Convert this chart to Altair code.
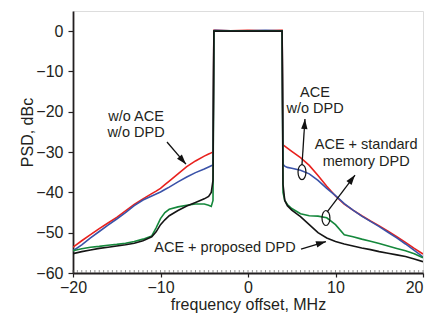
import math
import altair as alt
import pandas as pd

# ---- data ----
freq = [-20, -19, -18, -17, -16, -15, -14, -13, -12, -11, -10.5, -10, -9.5, -9, -8, -7, -6, -5,
        -4.5, -4.2, -4.0, -3.9, -3.8, -2, 0, 2, 3.8, 3.9, 4.0, 4.2, 4.5, 5, 6, 7, 8, 9, 10,
        11, 12, 13, 14, 15, 16, 17, 18, 19, 20]

red = [-53.6, -52.0, -50.5, -49.0, -47.6, -46.2, -44.6, -43.0, -41.6, -40.3, -39.7, -39.0, -38.1,
       -37.2, -35.4, -33.6, -32.2, -31.0, -30.5, -30.2, -30.0, 0.2, 0.2, 0.1, 0.2, 0.1, 0.2, 0.2,
       -28.2, -28.5, -29.0, -29.8, -31.4, -33.3, -35.8, -38.5, -40.9,
       -42.9, -44.4, -45.8, -47.1, -48.3, -49.6, -51.0, -52.4, -53.9, -55.3]

blue = [-54.5, -53.0, -51.3, -49.7, -48.1, -46.6, -45.0, -43.3, -41.9, -40.9, -40.4, -39.9, -39.3,
        -38.7, -37.4, -36.2, -35.1, -34.2, -33.7, -33.4, -33.2, 0.1, 0.2, 0.1, 0.1, 0.2, 0.1, 0.1,
        -33.0, -33.5, -33.8, -34.0, -34.5, -35.4, -37.0, -39.0, -40.8,
        -42.8, -44.4, -45.9, -47.2, -48.5, -49.9, -51.3, -52.8, -54.4, -56.0]

green = [-54.5, -54.0, -53.6, -53.4, -53.1, -52.9, -52.6, -52.2, -51.6, -50.8, -48.8, -46.5, -45.0,
         -44.2, -43.6, -43.2, -42.9, -42.9, -43.2, -43.5, -42.0, 0.0, 0.0, 0.0, 0.0, 0.0, 0.0, 0.0,
         -40.0, -42.0, -43.0, -44.0, -45.3, -45.8, -45.9, -46.3, -48.0,
         -50.5, -51.0, -51.6, -52.1, -52.7, -53.3, -53.9, -54.5, -55.2, -56.2]

black = [-55.2, -54.7, -54.3, -53.9, -53.6, -53.3, -53.0, -52.6, -52.0, -51.0, -49.8, -48.0, -46.8,
         -45.8, -44.5, -43.4, -42.5, -41.6, -41.0, -40.0, -37.0, 0.0, 0.0, 0.0, 0.0, 0.0, 0.0, 0.0,
         -38.0, -42.0, -43.3, -44.4, -46.0, -48.0, -50.0, -51.3, -52.2,
         -52.8, -53.3, -53.8, -54.2, -54.7, -55.1, -55.5, -55.9, -56.5, -57.2]

series_names = ["w/o ACE w/o DPD", "ACE w/o DPD", "ACE + standard memory DPD", "ACE + proposed DPD"]
series_values = [red, blue, green, black]
series_colors = ["#e8211d", "#3a52a8", "#15883c", "#151515"]

x_ticks = [-20, -10, 0, 10, 20]
y_ticks = [-60, -50, -40, -30, -20, -10, 0]
minor_x = [-20 + 0.5 * i for i in range(81)]

# annotations (data coordinates)
ann_text = ["w/o ACE", "w/o DPD", "ACE", "w/o DPD", "ACE + standard", "memory DPD", "ACE + proposed DPD"]
ann_x = [-12.8, -12.8, 7.66, 7.66, 13.5, 13.5, -2.63]
ann_y = [-22.3, -26.3, -16.4, -20.3, -29.3, -33.5, -54.8]

arrow_x0 = [-9.26, 6.17, 9.03, 6.06]
arrow_y0 = [-27.5, -33.2, -44.9, -54.05]
arrow_x1 = [-7.09, 6.51, 12.23, 8.91]
arrow_y1 = [-33.0, -21.8, -35.7, -52.2]

ell_x = [6.17, 8.91]
ell_y = [-34.96, -46.36]

W, H = 350, 262
XD = [-20, 20]
YD = [-60, 5]
TXT = "#231f20"
FONT = "Liberation Sans"

xs = alt.Scale(domain=XD, nice=False, zero=False)
ys = alt.Scale(domain=YD, nice=False, zero=False)

AX = alt.Axis(
    values=x_ticks, title="frequency offset, MHz", grid=False, labelFlush=False,
    labelAlign=alt.ExprRef(expr="datum.value >= 20 ? 'right' : 'center'"),
    domainColor=TXT, domainWidth=1.8, tickColor=TXT, tickWidth=1.2, tickSize=4,
    labelFontSize=16, labelFont=FONT, labelColor=TXT, labelPadding=2,
    titleFontSize=16, titleFont=FONT, titleColor=TXT, titleFontWeight="normal",
    titleY=36, titleBaseline="alphabetic")
AY = alt.Axis(
    values=y_ticks, title="PSD, dBc", grid=False, labelFlush=False,
    domainColor=TXT, domainWidth=1.8, tickColor=TXT, tickWidth=1.2, tickSize=5,
    labelFontSize=16, labelFont=FONT, labelColor=TXT, labelPadding=5,
    titleFontSize=16, titleFont=FONT, titleColor=TXT, titleFontWeight="normal",
    titleX=-41, titleY=121, titleAngle=270, titleBaseline="alphabetic")


def X(field):
    return alt.X(field, scale=xs, axis=AX, title="frequency offset, MHz")


def Y(field):
    return alt.Y(field, scale=ys, axis=AY, title="PSD, dBc")


layers = []
for name, vals, col in zip(series_names, series_values, series_colors):
    df = pd.DataFrame({"f": freq, "p": vals, "s": name})
    layers.append(alt.Chart(df).mark_line(color=col, strokeWidth=1.6, clip=True).encode(
        x=X("f:Q"), y=Y("p:Q")))

minor_df = pd.DataFrame({"f": minor_x})
minor = alt.Chart(minor_df).mark_rule(color="#666666", strokeWidth=0.7).encode(
    x=X("f:Q"), y=alt.value(H), y2=alt.value(H - 3))

ann_df = pd.DataFrame({"x": ann_x, "y": ann_y, "t": ann_text})
texts = alt.Chart(ann_df).mark_text(align="center", baseline="alphabetic", fontSize=14.5,
                                    font=FONT, color=TXT).encode(
    x=X("x:Q"), y=Y("y:Q"), text="t:N")

ang = []
for x0, y0, x1, y1 in zip(arrow_x0, arrow_y0, arrow_x1, arrow_y1):
    dx = (x1 - x0) * W / (XD[1] - XD[0])
    dy = -(y1 - y0) * H / (YD[1] - YD[0])
    ang.append(math.degrees(math.atan2(dx, -dy)) % 360)

arr_df = pd.DataFrame({"x0": arrow_x0, "y0": arrow_y0, "x1": arrow_x1, "y1": arrow_y1, "a": ang})
shafts = alt.Chart(arr_df).mark_rule(color="#111111", strokeWidth=1.3).encode(
    x=X("x0:Q"), y=Y("y0:Q"), x2="x1:Q", y2="y1:Q")
HEAD = "M0,0L0.32,1L-0.32,1Z"
heads = alt.Chart(arr_df).mark_point(shape=HEAD, filled=True, size=400, color="#111111", opacity=1).encode(
    x=X("x1:Q"), y=Y("y1:Q"), angle=alt.Angle("a:Q", scale=None))

ELL = "M0,-1A0.53,1 0 1,1 0,1A0.53,1 0 1,1 0,-1Z"
ell_df = pd.DataFrame({"x": ell_x, "y": ell_y})
ellipses = alt.Chart(ell_df).mark_point(shape=ELL, filled=False, size=225, color="#111111",
                                        strokeWidth=1.2, opacity=1).encode(
    x=X("x:Q"), y=Y("y:Q"))

chart = alt.layer(*layers, minor, shafts, heads, ellipses, texts).properties(
    width=W, height=H, autosize="none",
    padding={"left": 65, "top": 3, "right": 2, "bottom": 40},
).configure_view(stroke=None).configure(background="white")

chart.save("out.html", embed_options={"renderer": "svg", "actions": False})
